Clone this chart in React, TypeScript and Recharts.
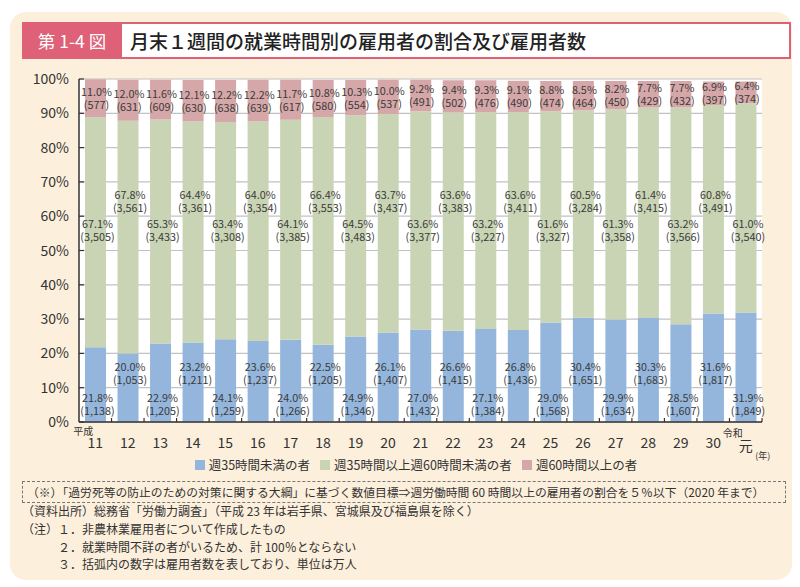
import React from "react";
import { Bar, BarChart, CartesianGrid, LabelList, XAxis, YAxis } from "recharts";

const years = ["11", "12", "13", "14", "15", "16", "17", "18", "19", "20", "21", "22", "23", "24", "25", "26", "27", "28", "29", "30", "元"];

// 週35時間未満の者
const shortPct = [21.8, 20.0, 22.9, 23.2, 24.1, 23.6, 24.0, 22.5, 24.9, 26.1, 27.0, 26.6, 27.1, 26.8, 29.0, 30.4, 29.9, 30.3, 28.5, 31.6, 31.9];
const shortCount = [1138, 1053, 1205, 1211, 1259, 1237, 1266, 1205, 1346, 1407, 1432, 1415, 1384, 1436, 1568, 1651, 1634, 1683, 1607, 1817, 1849];

// 週35時間以上週60時間未満の者
const midPct = [67.1, 67.8, 65.3, 64.4, 63.4, 64.0, 64.1, 66.4, 64.5, 63.7, 63.6, 63.6, 63.2, 63.6, 61.6, 60.5, 61.3, 61.4, 63.2, 60.8, 61.0];
const midCount = [3505, 3561, 3433, 3361, 3308, 3354, 3385, 3553, 3483, 3437, 3377, 3383, 3227, 3411, 3327, 3284, 3358, 3415, 3566, 3491, 3540];

// 週60時間以上の者
const longPct = [11.0, 12.0, 11.6, 12.1, 12.2, 12.2, 11.7, 10.8, 10.3, 10.0, 9.2, 9.4, 9.3, 9.1, 8.8, 8.5, 8.2, 7.7, 7.7, 6.9, 6.4];
const longCount = [577, 631, 609, 630, 638, 639, 617, 580, 554, 537, 491, 502, 476, 490, 474, 464, 450, 429, 432, 397, 374];

const yTicks = [0, 10, 20, 30, 40, 50, 60, 70, 80, 90, 100];

const data = years.map((year, i) => ({
	year,
	short: shortPct[i],
	mid: midPct[i],
	long: longPct[i],
}));

const FONT = '"Noto Sans CJK JP", "Noto Sans", sans-serif';
const BLUE = "#94b6dc";
const GREEN = "#c9d4b5";
const PINK = "#d6a7a8";
const INK = "#3a3a3a";

const fmt = (n: number) => n.toLocaleString("en-US");

// two-line label: percent and (count)
function pairText(cx: number, cy: number, pct: number, count: number) {
	return (
		<g>
			<text x={cx} y={cy - 2} textAnchor="middle" fontSize={10.8} fill={INK} fontFamily={FONT}>
				{pct.toFixed(1)}%
			</text>
			<text x={cx} y={cy + 11} textAnchor="middle" fontSize={10.8} fill={INK} fontFamily={FONT}>
				({fmt(count)})
			</text>
		</g>
	);
}

// labels sit at alternating heights; the height is given in % and turned into px via the bar itself
function shortLabel(p: any) {
	const { x, y, width, height, index } = p;
	const i = Number(index);
	const px = height / shortPct[i];
	const zero = y + height;
	const at = i % 2 === 0 ? 5.2 : 14.4;
	return pairText(x + width / 2 + 2, zero - at * px, shortPct[i], shortCount[i]);
}

function midLabel(p: any) {
	const { x, y, width, height, index } = p;
	const i = Number(index);
	const px = height / midPct[i];
	const zero = y + height + shortPct[i] * px;
	const at = i % 2 === 0 ? 56 : 64.3;
	return pairText(x + width / 2 + 2, zero - at * px, midPct[i], midCount[i]);
}

function longLabel(p: any) {
	const { x, y, width, height, index } = p;
	const i = Number(index);
	return pairText(x + width / 2 + 1, y + height / 2, longPct[i], longCount[i]);
}

function YearTick(props: any) {
	const { x, y, payload } = props;
	const half = payload?.offset ?? 16;
	const v = payload?.value;
	return (
		<g fontFamily={FONT} fill="#333">
			<line x1={x + half} x2={x + half} y1={y} y2={y - 4} stroke="#333" strokeWidth={1.2} />
			{v === "11" && (
				<text x={x - 12} y={y + 13} textAnchor="middle" fontSize={10}>
					平成
				</text>
			)}
			{v === "元" && (
				<>
					<text x={x - 13} y={y + 15} textAnchor="middle" fontSize={10}>
						令和
					</text>
					<text x={x + 17} y={y + 37} textAnchor="middle" fontSize={9}>
						(年)
					</text>
				</>
			)}
			<text x={x} y={v === "元" ? y + 29 : y + 26} textAnchor="middle" fontSize={14}>
				{v}
			</text>
		</g>
	);
}

function PctTick(props: any) {
	const { x, y, payload } = props;
	return (
		<g>
			<text x={x} y={y + 5} textAnchor="end" fontSize={14} fill="#333" fontFamily={FONT}>
				{payload.value}%
			</text>
			<line x1={x + 10} x2={x + 15} y1={y} y2={y} stroke="#333" strokeWidth={1.2} />
		</g>
	);
}

const legendItems = [
	{ color: BLUE, name: "週35時間未満の者" },
	{ color: GREEN, name: "週35時間以上週60時間未満の者" },
	{ color: PINK, name: "週60時間以上の者" },
];

const notes = [
	{ text: "（資料出所）総務省「労働力調査」（平成 23 年は岩手県、宮城県及び福島県を除く）", left: 22, top: 502 },
	{ text: "（注）１．非農林業雇用者について作成したもの", left: 22, top: 520 },
	{ text: "２．就業時間不詳の者がいるため、計 100％とならない", left: 58, top: 538 },
	{ text: "３．括弧内の数字は雇用者数を表しており、単位は万人", left: 58, top: 555 },
];

export default function App() {
	return (
		<div
			style={{
				position: "absolute",
				top: 0,
				left: 0,
				width: 800,
				height: 587,
				background: "#fff",
				fontFamily: FONT,
				color: "#333",
				overflow: "hidden",
			}}
		>
			<div
				style={{
					position: "absolute",
					left: 10,
					top: 12,
					width: 782,
					height: 568,
					background: "#fcefdc",
					borderRadius: 16,
				}}
			/>
			<div
				style={{
					position: "absolute",
					left: 22,
					top: 22,
					width: 100,
					height: 37,
					background: "#df6178",
					color: "#fff",
					fontSize: 17.5,
					lineHeight: "37px",
					textAlign: "center",
				}}
			>
				第 1-4 図
			</div>
			<div
				style={{
					position: "absolute",
					left: 122,
					top: 22,
					width: 659,
					height: 33,
					background: "#fff",
					border: "2px solid #df6178",
					borderLeft: "none",
					fontSize: 19,
					lineHeight: "33px",
					paddingLeft: 8,
					boxSizing: "content-box",
					color: "#222",
					fontWeight: 500,
				}}
			>
				月末１週間の就業時間別の雇用者の割合及び雇用者数
			</div>

			<div style={{ position: "absolute", left: 0, top: 0 }}>
				<BarChart
					width={800}
					height={472}
					data={data}
					margin={{ top: 79, right: 38, bottom: 20, left: 19 }}
				>
					<CartesianGrid vertical={false} stroke="#c2c2c2" strokeWidth={1.2} fill="#fff" />
					<XAxis
						dataKey="year"
						height={30}
						tickSize={0}
						tickMargin={0}
						tickLine={false}
						axisLine={{ stroke: "#333", strokeWidth: 1.5 }}
						tick={<YearTick />}
						interval={0}
					/>
					<YAxis
						width={60}
						domain={[0, 100]}
						ticks={yTicks}
						allowDataOverflow
						tickSize={0}
						tickMargin={10}
						tickLine={false}
						axisLine={{ stroke: "#333", strokeWidth: 1.5 }}
						tick={<PctTick />}
					/>
					<Bar dataKey="short" stackId="a" fill={BLUE} barSize={21} isAnimationActive={false}>
						<LabelList dataKey="short" content={shortLabel} />
					</Bar>
					<Bar dataKey="mid" stackId="a" fill={GREEN} barSize={21} isAnimationActive={false}>
						<LabelList dataKey="mid" content={midLabel} />
					</Bar>
					<Bar dataKey="long" stackId="a" fill={PINK} barSize={21} isAnimationActive={false}>
						<LabelList dataKey="long" content={longLabel} />
					</Bar>
				</BarChart>
			</div>

			<div
				style={{
					position: "absolute",
					left: 0,
					top: 456,
					width: 832,
					display: "flex",
					justifyContent: "center",
					gap: 10,
					fontSize: 12.5,
					lineHeight: "18px",
				}}
			>
				{legendItems.map((it) => (
					<div key={it.name} style={{ display: "flex", alignItems: "center" }}>
						<span style={{ width: 10, height: 10, background: it.color, marginRight: 4 }} />
						<span>{it.name}</span>
					</div>
				))}
			</div>

			<div
				style={{
					position: "absolute",
					left: 22,
					top: 481,
					width: 758,
					height: 20,
					border: "1px dashed #777",
					fontSize: 11.8,
					lineHeight: "20px",
					whiteSpace: "nowrap",
					paddingLeft: 4,
					boxSizing: "content-box",
				}}
			>
				（※）「過労死等の防止のための対策に関する大綱」に基づく数値目標⇒週労働時間 60 時間以上の雇用者の割合を５％以下（2020 年まで）
			</div>

			{notes.map((n) => (
				<div
					key={n.text}
					style={{
						position: "absolute",
						left: n.left,
						top: n.top,
						fontSize: 12,
						lineHeight: "18px",
						whiteSpace: "nowrap",
					}}
				>
					{n.text}
				</div>
			))}
		</div>
	);
}
